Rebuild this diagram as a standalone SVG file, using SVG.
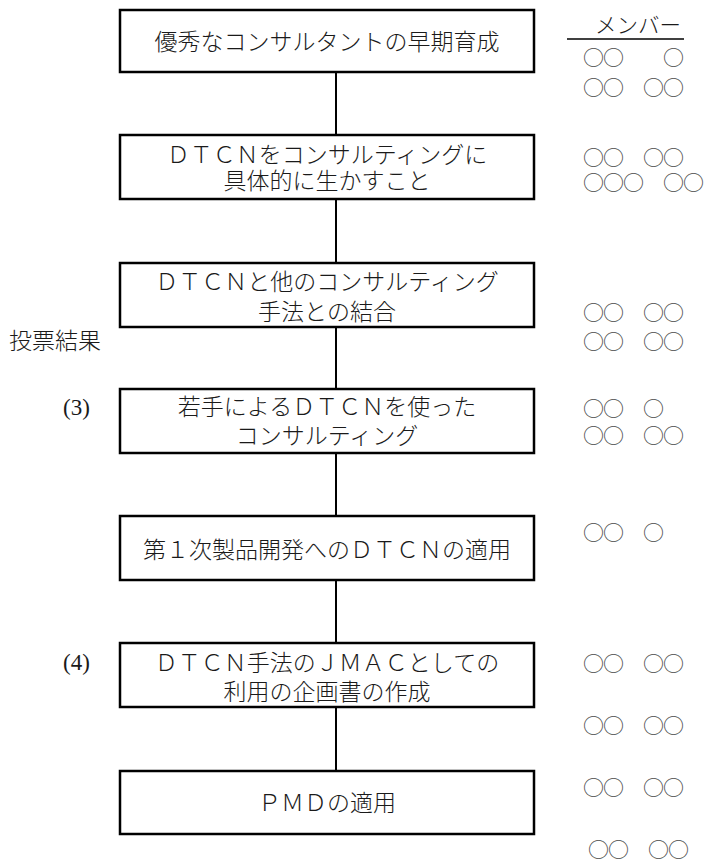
<svg xmlns="http://www.w3.org/2000/svg" width="704" height="862" viewBox="0 0 704 862">
<style>
.box{fill:#fff;stroke:#000;stroke-width:2.5}
.conn{stroke:#000;stroke-width:2;fill:none}
.t{font-family:"Liberation Serif","Noto Sans CJK JP",serif;font-size:23px;font-weight:300;fill:#1a1a1a;text-anchor:middle}
.l{font-family:"Liberation Serif","Noto Sans CJK JP",serif;font-size:23px;font-weight:300;fill:#1a1a1a}
.c{font-family:"Noto Sans CJK JP",sans-serif;font-size:21px;letter-spacing:-1px;fill:#4a4a4a}
</style>
<rect width="704" height="862" fill="#fff"/>
<g id="connectors">
<line class="conn" x1="336" y1="72" x2="336" y2="135"/>
<line class="conn" x1="336" y1="199" x2="336" y2="263"/>
<line class="conn" x1="336" y1="327" x2="336" y2="389"/>
<line class="conn" x1="336" y1="453" x2="336" y2="516"/>
<line class="conn" x1="336" y1="580" x2="336" y2="643"/>
<line class="conn" x1="336" y1="707" x2="336" y2="771"/>
</g>
<g id="n1"><rect class="box" x="120" y="10" width="414" height="62"/><text class="t" x="327" y="50">優秀なコンサルタントの早期育成</text></g>
<g id="n2"><rect class="box" x="120" y="135" width="414" height="64"/><text class="t" x="327" y="163">ＤＴＣＮをコンサルティングに</text><text class="t" x="327" y="189">具体的に生かすこと</text></g>
<g id="n3"><rect class="box" x="120" y="263" width="414" height="64"/><text class="t" x="327" y="290">ＤＴＣＮと他のコンサルティング</text><text class="t" x="327" y="320">手法との結合</text></g>
<g id="n4"><rect class="box" x="120" y="389" width="414" height="64"/><text class="t" x="327" y="415">若手によるＤＴＣＮを使った</text><text class="t" x="327" y="444">コンサルティング</text></g>
<g id="n5"><rect class="box" x="120" y="516" width="414" height="64"/><text class="t" x="327" y="558">第１次製品開発へのＤＴＣＮの適用</text></g>
<g id="n6"><rect class="box" x="120" y="643" width="414" height="64"/><text class="t" x="327" y="671">ＤＴＣＮ手法のＪＭＡＣとしての</text><text class="t" x="327" y="700">利用の企画書の作成</text></g>
<g id="n7"><rect class="box" x="120" y="771" width="414" height="63"/><text class="t" x="327" y="811">ＰＭＤの適用</text></g>
<g id="labels">
<text class="l" x="9" y="349">投票結果</text>
<text class="l" x="63" y="415">(3)</text>
<text class="l" x="63" y="670">(4)</text>
</g>
<g id="members">
<text class="l" x="595" y="33" style="font-size:21.5px">メンバー</text>
<line x1="567" y1="39" x2="684" y2="39" stroke="#000" stroke-width="1.6"/>
<text class="c" x="583" y="65">○○　　○</text>
<text class="c" x="583" y="95">○○　○○</text>
<text class="c" x="583" y="165">○○　○○</text>
<text class="c" x="583" y="190">○○○　○○</text>
<text class="c" x="583" y="320">○○　○○</text>
<text class="c" x="583" y="349">○○　○○</text>
<text class="c" x="583" y="416">○○　○</text>
<text class="c" x="583" y="443">○○　○○</text>
<text class="c" x="583" y="540">○○　○</text>
<text class="c" x="583" y="671">○○　○○</text>
<text class="c" x="583" y="733">○○　○○</text>
<text class="c" x="583" y="795">○○　○○</text>
<text class="c" x="588" y="857">○○　○○</text>
</g>
</svg>
